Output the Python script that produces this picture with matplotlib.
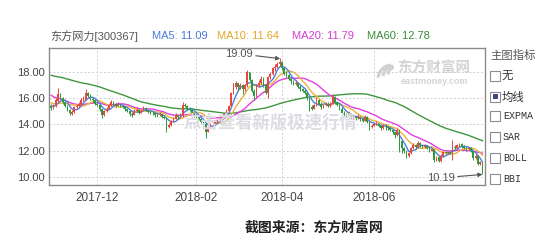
import matplotlib
matplotlib.use('Agg')
import matplotlib.pyplot as plt
from matplotlib.patches import Rectangle, Arc
import pandas as pd

# ---------------- data ----------------
prior_close = [17.95, 18.25, 18.45, 18.15, 17.85, 18.05, 18.35, 18.25, 17.95, 17.75, 18.05, 18.25, 18.55, 18.35, 18.15,
               17.95, 18.25, 18.45, 18.15, 18.05, 18.25, 18.35,
               18.65, 18.95, 19.25, 19.05, 18.85, 19.15, 19.35, 19.05, 18.75, 18.95, 19.25, 19.15, 18.85, 18.65,
               18.95, 19.15, 19.05, 18.85,
               17.8, 17.6, 17.4, 17.2, 17.0, 16.8, 16.7, 16.5, 16.4, 16.3,
               16.2, 16.1, 16.0, 15.9, 15.8, 15.7, 15.6, 15.5, 15.4, 15.3]

opens = [15.45, 15.25, 15.4, 15.8, 16.3, 16.0, 15.7, 15.4, 15.1, 14.8,
         14.95, 15.3, 15.45, 15.5, 15.85, 15.9, 16.4, 16.2, 15.95, 15.85,
         15.6, 15.5, 15.15, 14.7, 15.0, 15.2, 15.5, 15.7, 15.6, 15.45,
         15.55, 15.4, 15.35, 15.15, 15.05, 14.8, 14.75, 15.05, 15.1, 14.9,
         15.05, 15.25, 15.1, 14.95, 14.9, 14.85, 14.75, 14.7, 14.8, 14.6,
         14.5, 13.8, 13.95, 14.25, 14.45, 14.7, 14.55, 14.75, 15.5, 15.4,
         15.2, 15.1, 14.85, 14.7, 14.55, 14.45, 14.2, 14.05, 13.45, 13.8,
         14.0, 14.05, 14.25, 14.35, 14.4, 14.55, 14.8, 15.05, 15.4, 16.4,
         16.9, 17.15, 16.85, 17.0, 16.7, 17.0, 18.0, 17.4, 16.6, 16.2,
         17.0, 17.2, 17.5, 17.0, 16.4, 17.6, 17.9, 18.3, 18.4, 18.6,
         18.8, 18.3, 17.9, 17.8, 17.5, 17.3, 17.1, 17.2, 16.9, 16.7,
         16.6, 16.4, 16.0, 15.3, 15.2, 15.5, 15.9, 15.6, 15.3, 15.5,
         15.6, 15.4, 15.6, 16.1, 15.7, 15.5, 15.2, 14.9, 14.8, 14.7,
         14.8, 14.5, 14.6, 14.5, 14.6, 14.4, 14.3, 14.6, 14.2, 13.8,
         13.9, 14.0, 14.1, 13.9, 13.7, 13.9, 13.8, 13.7, 13.6, 13.4,
         13.2, 13.6, 12.7, 12.2, 12.0, 11.6, 11.8, 12.2, 12.4, 12.3,
         12.6, 12.4, 12.3, 12.35, 12.2, 12.0, 12.1, 11.3, 11.5, 11.2,
         11.6, 11.9, 11.8, 11.9, 11.8, 12.3, 12.2, 12.4, 12.5, 12.3,
         12.2, 12.1, 12.2, 12.0, 11.4, 11.6, 11.0, 11.1]

highs = [15.6, 15.6, 16.0, 16.8, 16.4, 16.1, 15.8, 15.5, 15.2, 15.1,
         15.4, 15.6, 15.7, 16.0, 16.2, 16.7, 16.5, 16.3, 16.1, 15.9,
         15.7, 15.55, 15.2, 15.1, 15.3, 15.6, 15.9, 15.8, 15.65, 15.7,
         15.6, 15.5, 15.4, 15.2, 15.1, 14.95, 15.2, 15.3, 15.15, 15.2,
         15.4, 15.3, 15.15, 15.05, 15.0, 14.9, 14.9, 14.95, 14.85, 14.7,
         14.6, 14.1, 14.35, 14.55, 14.85, 14.75, 14.85, 15.7, 15.65, 15.5,
         15.3, 15.15, 14.9, 14.8, 14.6, 14.5, 14.3, 14.1, 13.9, 14.1,
         14.15, 14.35, 14.45, 14.5, 14.65, 14.9, 15.15, 15.5, 16.5, 17.2,
         17.3, 17.2, 17.2, 17.1, 17.1, 18.2, 18.05, 17.5, 16.7, 17.1,
         17.4, 17.7, 17.6, 17.1, 17.7, 18.0, 18.4, 18.6, 18.8, 19.09,
         18.85, 18.4, 18.1, 17.9, 17.6, 17.4, 17.4, 17.25, 17.0, 16.8,
         16.7, 16.5, 16.05, 15.5, 15.6, 16.1, 15.95, 15.7, 15.6, 15.75,
         15.7, 15.7, 16.3, 16.15, 15.8, 15.55, 15.3, 15.0, 14.9, 15.0,
         14.85, 14.75, 14.65, 14.8, 14.65, 14.5, 14.75, 14.65, 14.25, 14.0,
         14.1, 14.3, 14.15, 13.95, 14.0, 14.0, 13.9, 13.8, 13.65, 13.45,
         13.7, 13.65, 12.8, 12.3, 12.05, 11.9, 12.3, 12.6, 12.5, 12.75,
         12.65, 12.45, 12.5, 12.4, 12.25, 12.2, 12.15, 11.6, 11.55, 11.7,
         12.0, 11.95, 12.0, 11.95, 12.8, 12.4, 12.5, 12.6, 12.55, 12.4,
         12.3, 12.3, 12.25, 12.05, 11.7, 11.65, 11.2, 11.15]

lows = [15.1, 15.2, 15.35, 15.7, 15.95, 15.6, 15.3, 15.0, 14.7, 14.75,
        14.9, 15.2, 15.35, 15.45, 15.8, 15.85, 16.1, 15.85, 15.75, 15.5,
        15.4, 15.0, 14.5, 14.65, 14.95, 15.15, 15.45, 15.5, 15.35, 15.4,
        15.3, 15.25, 15.05, 14.95, 14.65, 14.6, 14.7, 14.95, 14.8, 14.85,
        15.0, 15.0, 14.85, 14.8, 14.7, 14.6, 14.6, 14.65, 14.5, 14.4,
        13.4, 13.7, 13.9, 14.2, 14.4, 14.4, 14.5, 14.6, 15.3, 15.1,
        15.0, 14.75, 14.6, 14.45, 14.35, 14.1, 13.95, 13.0, 13.4, 13.75,
        13.9, 14.0, 14.2, 14.3, 14.35, 14.5, 14.75, 15.0, 15.35, 16.3,
        16.7, 16.6, 16.7, 16.3, 16.6, 16.9, 17.3, 16.5, 15.9, 16.1,
        16.9, 17.1, 16.9, 16.3, 16.0, 17.5, 17.8, 18.1, 18.3, 18.5,
        18.2, 17.8, 17.6, 17.4, 17.1, 17.0, 17.0, 16.8, 16.6, 16.5,
        16.3, 15.9, 15.0, 15.1, 15.15, 15.45, 15.5, 15.2, 15.25, 15.4,
        15.3, 15.35, 15.55, 15.6, 15.4, 15.1, 14.8, 14.6, 14.6, 14.65,
        14.4, 14.45, 14.35, 14.45, 14.3, 14.2, 14.25, 14.1, 13.6, 13.7,
        13.85, 13.95, 13.8, 13.6, 13.65, 13.6, 13.55, 13.5, 13.3, 13.0,
        13.15, 11.9, 11.8, 11.8, 11.4, 11.5, 11.75, 12.1, 12.1, 12.2,
        12.3, 12.2, 12.2, 12.1, 11.9, 11.95, 11.1, 11.2, 11.1, 11.15,
        11.55, 11.7, 11.75, 11.7, 11.3, 12.1, 12.15, 12.3, 12.2, 12.1,
        12.0, 12.05, 11.9, 11.3, 11.35, 10.9, 10.9, 10.19]

closes = [15.25, 15.45, 15.85, 16.3, 16.05, 15.7, 15.4, 15.1, 14.85, 14.95,
          15.3, 15.45, 15.55, 15.85, 16.0, 16.4, 16.2, 15.95, 15.85, 15.6,
          15.5, 15.15, 14.7, 15.0, 15.2, 15.5, 15.7, 15.6, 15.45, 15.55,
          15.4, 15.35, 15.15, 15.05, 14.8, 14.75, 15.05, 15.1, 14.9, 15.05,
          15.25, 15.1, 14.95, 14.9, 14.85, 14.75, 14.7, 14.8, 14.6, 14.5,
          13.8, 13.95, 14.25, 14.45, 14.7, 14.55, 14.75, 15.5, 15.4, 15.2,
          15.1, 14.85, 14.7, 14.55, 14.45, 14.2, 14.05, 13.45, 13.8, 14.0,
          14.05, 14.25, 14.35, 14.4, 14.55, 14.8, 15.05, 15.4, 16.4, 16.9,
          17.15, 16.85, 17.0, 16.7, 17.0, 18.0, 17.4, 16.6, 16.2, 17.0,
          17.2, 17.5, 17.0, 16.4, 17.6, 17.9, 18.3, 18.4, 18.6, 18.8,
          18.3, 17.9, 17.8, 17.5, 17.3, 17.1, 17.2, 16.9, 16.7, 16.6,
          16.4, 16.0, 15.3, 15.2, 15.5, 15.9, 15.6, 15.3, 15.5, 15.6,
          15.4, 15.6, 16.1, 15.7, 15.5, 15.2, 14.9, 14.8, 14.7, 14.8,
          14.5, 14.6, 14.5, 14.6, 14.4, 14.3, 14.6, 14.2, 13.8, 13.9,
          14.0, 14.1, 13.9, 13.7, 13.9, 13.8, 13.7, 13.6, 13.4, 13.2,
          13.6, 12.1, 12.2, 12.0, 11.6, 11.8, 12.2, 12.4, 12.3, 12.6,
          12.4, 12.3, 12.35, 12.2, 12.0, 12.1, 11.3, 11.5, 11.2, 11.6,
          11.9, 11.8, 11.9, 11.8, 12.3, 12.2, 12.4, 12.5, 12.3, 12.2,
          12.1, 12.2, 12.0, 11.4, 11.6, 11.0, 11.1, 10.4]

xtick_pos = [20, 63, 100, 140]
xtick_labels = ['2017-12', '2018-02', '2018-04', '2018-06']
ytick_vals = [10, 12, 14, 16, 18]
ma_windows = [5, 10, 20, 60]
ma_labels = ['MA5: 11.09', 'MA10: 11.64', 'MA20: 11.79', 'MA60: 12.78']
title_text = '东方网力[300367]'
indicator_title = '主图指标'
indicator_items = ['无', '均线', 'EXPMA', 'SAR', 'BOLL', 'BBI']
peak_label, peak_idx, peak_val = '19.09', 99, 19.09
low_label, low_idx, low_val = '10.19', 187, 10.19
caption = '截图来源：东方财富网'

# ---------------- styles ----------------
W, H = 550, 249
UP = '#e8463f'
DOWN = '#2e9a3a'
MA_COLORS = ['#4f7fe0', '#eab040', '#e23ee0', '#3f9640']
LEG_COLORS = ['#4a78d8', '#e2a628', '#d43cd4', '#3a8a3c']
LAT = ['Liberation Sans', 'Noto Sans CJK SC']
CJK = ['Noto Sans CJK SC', 'Liberation Sans']


def fx(px):
    return px / W


def fy(py):
    return 1 - py / H


fig = plt.figure(figsize=(W / 100, H / 100), dpi=100)
fig.patch.set_facecolor('white')
ax = fig.add_axes([fx(49), fy(185), 436 / W, 137 / H])

n = len(closes)
xs = list(range(n))

# MAs from closes (including earlier history for warm-up)
full = pd.Series(prior_close + closes)
for win, col in zip(ma_windows[::-1], MA_COLORS[::-1]):
    ma = full.rolling(win).mean().iloc[len(prior_close):].values
    ax.plot(xs, ma, color=col, lw=1.0, zorder=3 if win != 60 else 2.5)

# candles
for i in xs:
    o, h, l, c = opens[i], highs[i], lows[i], closes[i]
    col = UP if c >= o else DOWN
    ax.vlines(i, l, h, color=col, lw=0.7, zorder=4)
    body = max(abs(c - o), 0.05)
    ax.bar(i, body, bottom=min(o, c), width=0.7, color=col, linewidth=0, zorder=4)

ax.set_xlim(-0.94, 188.1)
ax.set_ylim(9.36, 19.86)
ax.set_xticks(xtick_pos)
ax.set_xticklabels(xtick_labels)
ax.set_yticks(ytick_vals)
ax.set_yticklabels([f'{v:.2f}' for v in ytick_vals])
ax.tick_params(length=0, labelsize=8, colors='#444', pad=3)
for lab in ax.get_xticklabels() + ax.get_yticklabels():
    lab.set_family(LAT)
ax.tick_params(axis='x', pad=5, labelsize=8.5)
ax.grid(True, color='#cfcfcf', lw=0.7, ls=(0, (2, 2)))
ax.set_axisbelow(True)
for sp in ax.spines.values():
    sp.set_color('#8a8a8a')
    sp.set_linewidth(1.0)

# watermark in the middle
fig.text(fx(270), fy(123), '点击查看新版极速行情', family=CJK, fontsize=12.5, fontweight='bold',
         color='#dcdce4', ha='center', va='center', zorder=1.5)
# logo watermark
fig.text(fx(434), fy(68), '东方财富网', family=CJK, fontsize=10.5, fontweight='bold',
         color='#d4d4d4', ha='center', va='center')
fig.text(fx(434), fy(82), 'eastmoney.com', family=LAT, fontsize=6.5, fontweight='bold',
         color='#d4d4d4', ha='center', va='center')
icon = fig.add_axes([fx(372), fy(83), 22 / W, 24 / H])
icon.set_xlim(0, 22)
icon.set_ylim(0, 24)
icon.axis('off')
icon.patch.set_alpha(0)
for cx, cy, r in [(20, 4, 14), (22, 6, 11), (24, 8, 8)]:
    icon.add_patch(Arc((cx, cy), 2 * r, 2 * r, theta1=95, theta2=175, color='#d0d0d0', lw=2.2))

# annotations
ax.annotate(peak_label, xy=(peak_idx + 0.3, peak_val - 0.05), xytext=(87.5, 19.42),
            ha='right', va='center', fontsize=8, color='#555', family=LAT,
            arrowprops=dict(arrowstyle='-|>', color='#555', lw=0.8, shrinkA=0, shrinkB=0,
                            mutation_scale=6), zorder=6)
ax.annotate(low_label, xy=(low_idx, low_val - 0.02), xytext=(175.1, 9.9),
            ha='right', va='center', fontsize=8, color='#555', family=LAT,
            arrowprops=dict(arrowstyle='-|>', color='#555', lw=0.8, shrinkA=0, shrinkB=0,
                            mutation_scale=6), zorder=6)

# header
fig.text(fx(50), fy(36), title_text, family=LAT, fontsize=8, color='#555', ha='left', va='center')
leg_x = [152, 217, 292, 367]
for lx, txt, col in zip(leg_x, ma_labels, LEG_COLORS):
    fig.text(fx(lx), fy(36), txt, family=LAT, fontsize=8, color=col, ha='left', va='center')

# indicator panel
fig.text(fx(490), fy(55), indicator_title, family=CJK, fontsize=8.2, color='#555',
         ha='left', va='center')
item_y = [76, 97, 116, 137, 158, 179]
for k, (txt, yy) in enumerate(zip(indicator_items, item_y)):
    fig.add_artist(Rectangle((fx(490), fy(yy + 5)), 10 / W, 10 / H, transform=fig.transFigure,
                             facecolor='white', edgecolor='#8a8a9a', lw=0.8))
    if txt == '均线':
        fig.add_artist(Rectangle((fx(492.5), fy(yy + 2.5)), 5 / W, 5 / H, transform=fig.transFigure,
                                 facecolor='#3c4a78', edgecolor='none'))
    if any('\u4e00' <= ch <= '\u9fff' for ch in txt):
        fig.text(fx(502), fy(yy), txt, family=CJK, fontsize=8.2, color='#333', ha='left', va='center')
    else:
        fig.text(fx(503), fy(yy), txt, family=['Liberation Mono'], fontsize=7.2, color='#333',
                 ha='left', va='center')

# caption
fig.text(fx(314), fy(228), caption, family=CJK, fontsize=10, fontweight='bold', color='#222',
         ha='center', va='center')

fig.savefig('out.png', dpi=100, facecolor='white')
